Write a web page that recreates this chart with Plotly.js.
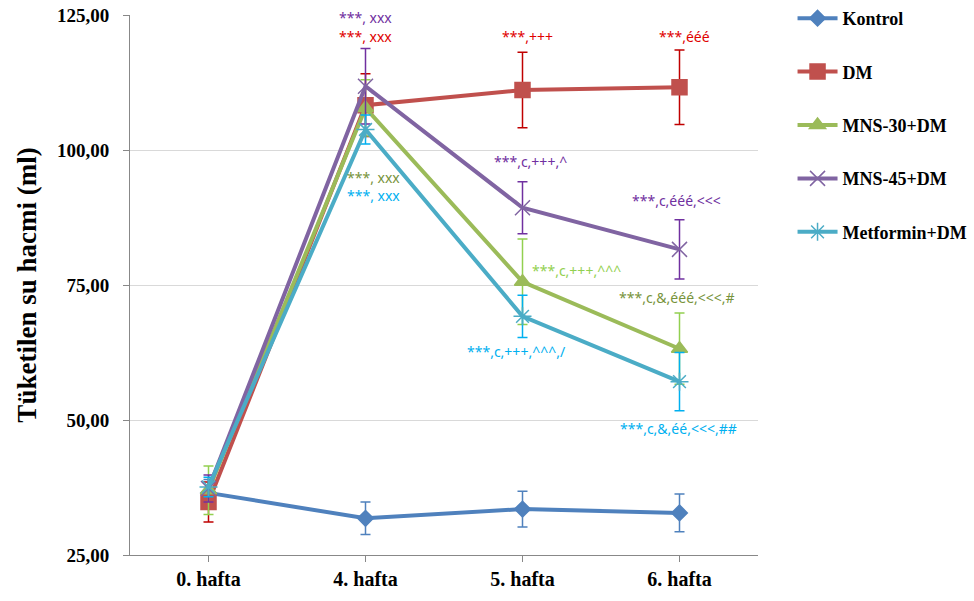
<!DOCTYPE html>
<html>
<head>
<meta charset="utf-8">
<script src="https://cdn.plot.ly/plotly-3.0.1.min.js"></script>
<style>html,body{margin:0;padding:0;background:#fff;}#chart{width:974px;height:601px;}</style>
</head>
<body>
<div id="chart"></div>
<script>
var categories = ["0. hafta", "4. hafta", "5. hafta", "6. hafta"];
var seriesNames = ["Kontrol", "DM", "MNS-30+DM", "MNS-45+DM", "Metformin+DM"];
var kontrol = [36.5, 31.8, 33.5, 32.8];
var kontrolErr = [2.5, 3.0, 3.3, 3.5];
var dm = [34.8, 108.3, 111.1, 111.6];
var dmErr = [3.7, 5.8, 7.0, 6.9];
var mns30 = [37.0, 107.8, 75.6, 63.2];
var mns30Err = [4.5, 5.2, 7.9, 6.6];
var mns45 = [37.3, 111.8, 89.3, 81.6];
var mns45Err = [2.5, 7.0, 4.8, 5.5];
var metformin = [37.6, 103.8, 69.2, 57.1];
var metforminErr = [1.8, 2.7, 3.9, 5.4];
var yTicks = [25, 50, 75, 100, 125];

var labelTexts = ["***, xxx", "***, xxx", "***, xxx", "***, xxx",
  "***,c,+++,^", "***,c,+++,^^^", "***,c,+++,^^^,/",
  "***,c,ééé,<<<", "***,c,&,ééé,<<<,#", "***,c,&,éé,<<<,##",
  "***,+++", "***,ééé"];

var lineColors = ["#4F81BD", "#C0504D", "#9BBB59", "#8064A2", "#4BACC6"];
var errColors = ["#4F81BD", "#C00000", "#92D050", "#7030A0", "#00B0F0"];
var symbols = ["diamond", "square", "triangle-up", "x-thin-open", "asterisk-open"];
var sizes = [12, 15, 14, 15, 15];
var ys = [kontrol, dm, mns30, mns45, metformin];
var errs = [kontrolErr, dmErr, mns30Err, mns45Err, metforminErr];

var traces = [];
for (var i = 0; i < 5; i++) {
  traces.push({
    type: "scatter", mode: "lines+markers",
    name: seriesNames[i], legendgroup: "g" + i,
    x: categories, y: ys[i],
    line: {color: lineColors[i], width: 4},
    marker: {symbol: symbols[i], size: sizes[i], color: lineColors[i],
      line: {color: lineColors[i], width: 1.5}},
    error_y: {type: "data", array: errs[i], visible: true, color: errColors[i], thickness: 1.5, width: 5}
  });
}

function px2x(px) { return (px - 208.5) / 157; }
function px2y(py) { return 125 - (py - 15) / 5.4; }

var annPos = [
  [337, 17, "#7030A0"], [337, 36, "#E00000"], [345, 177, "#77933C"], [345, 195, "#00B0F0"],
  [492, 161, "#7030A0"], [530, 270, "#92D050"], [465, 351, "#00B0F0"],
  [630, 200, "#7030A0"], [617, 297, "#77933C"], [618, 428, "#00B0F0"],
  [500, 36, "#E00000"], [657, 36, "#E00000"]
];
var annotations = [];
for (var k = 0; k < labelTexts.length; k++) {
  annotations.push({
    text: labelTexts[k], xref: "x", yref: "y",
    x: px2x(annPos[k][0]), y: px2y(annPos[k][1]),
    xanchor: "left", yanchor: "middle", showarrow: false,
    font: {family: "Noto Sans", size: 14, color: annPos[k][2]}
  });
}

var layout = {
  width: 974, height: 601,
  margin: {l: 130, r: 216, t: 15, b: 46, autoexpand: false},
  paper_bgcolor: "#fff", plot_bgcolor: "#fff",
  separators: ",.",
  showlegend: true,
  legend: {x: 1.055, xanchor: "left", xref: "paper", y: 1.0, yref: "container", yanchor: "top",
    font: {family: "Liberation Serif", size: 18, color: "#000", weight: "bold"},
    tracegroupgap: 27, itemwidth: 40, bgcolor: "rgba(0,0,0,0)"},
  xaxis: {
    type: "category", range: [-0.5, 3.5],
    showline: true, linecolor: "#888", linewidth: 1,
    ticks: "outside", ticklen: 6, tickcolor: "#888",
    showgrid: false, zeroline: false,
    tickfont: {family: "Liberation Serif", size: 20, color: "#000", weight: "bold"}
  },
  yaxis: {
    range: [25, 125], tickvals: yTicks, tickformat: ".2f",
    showline: true, linecolor: "#888", linewidth: 1,
    ticks: "outside", ticklen: 6, tickcolor: "#888", ticklabelstandoff: 10,
    showgrid: true, gridcolor: "#D9D9D9", gridwidth: 1, zeroline: false,
    tickfont: {family: "Liberation Serif", size: 19, color: "#000", weight: "bold"},
    title: {text: "Tüketilen su hacmi (ml)", standoff: 12,
      font: {family: "Liberation Serif", size: 27, color: "#000", weight: "bold"}}
  },
  annotations: annotations
};

Plotly.newPlot("chart", traces, layout, {displayModeBar: false, staticPlot: true});
</script>
</body>
</html>
